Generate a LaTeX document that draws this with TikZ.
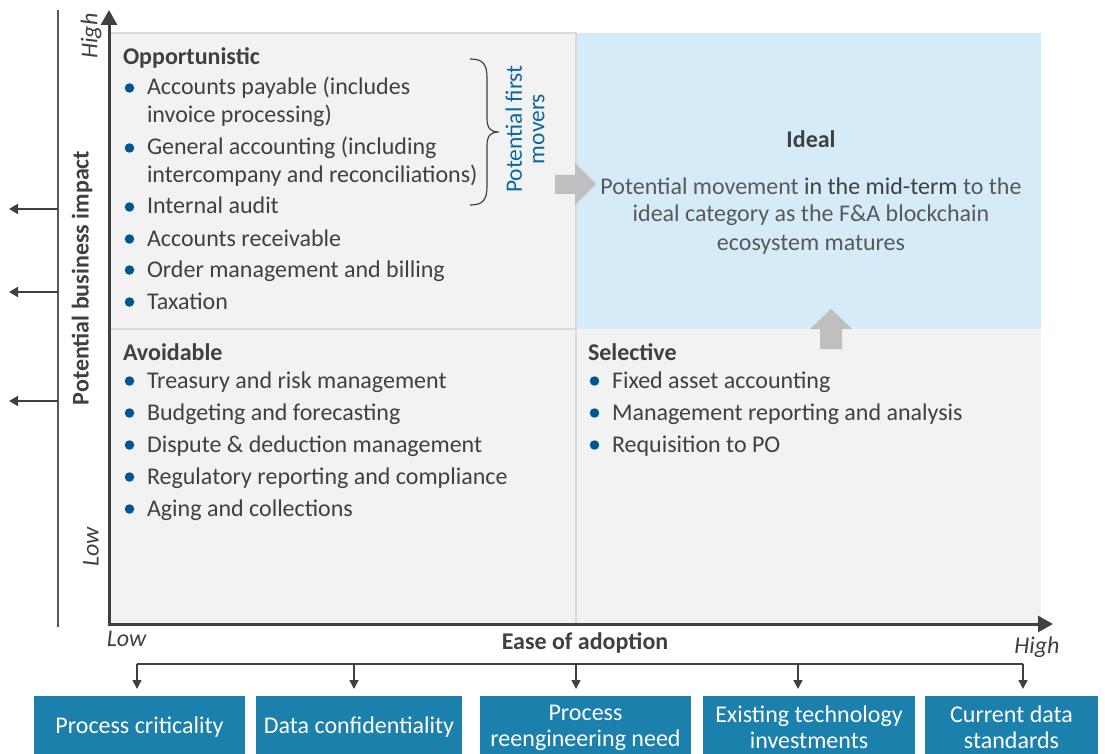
\documentclass[tikz,border=0pt]{standalone}
\usepackage{fontspec}
\setmainfont{Carlito}
\usetikzlibrary{arrows.meta}
\definecolor{txt}{HTML}{404040}
\definecolor{soft}{HTML}{595959}
\definecolor{quad}{HTML}{F2F2F2}
\definecolor{quadline}{HTML}{DADADA}
\definecolor{idealbg}{HTML}{D5EBF7}
\definecolor{dotblue}{HTML}{00578F}
\definecolor{fmblue}{HTML}{0A67A3}
\definecolor{boxblue}{HTML}{1C80AC}
\definecolor{arrowgray}{HTML}{BFBFBF}
\begin{document}
\begin{tikzpicture}[x=1pt,y=-1pt,
  every node/.style={inner sep=0pt, outer sep=0pt, text=txt, font=\fontsize{24}{29}\selectfont},
  itemtext/.style={anchor=base west},
  heading/.style={anchor=base west, font=\fontsize{24}{29}\selectfont\bfseries},
  bulletdot/.style={circle, fill=dotblue, minimum size=9.5pt},
  axisline/.style={draw=txt, line width=3pt, line join=miter},
  guide/.style={draw=soft, line width=1.4pt},
  pointer/.style={draw=txt, line width=1.8pt, -{Triangle[length=9pt,width=10pt]}},
  factor/.style={fill=boxblue, text=white, minimum height=63pt, align=center, font=\fontsize{24}{26}\selectfont},
  movearrow/.style={fill=arrowgray},
  axislabel/.style={font=\fontsize{24}{29}\selectfont\itshape}
]
\useasboundingbox (0,0) rectangle (1105,754);

% quadrants
\fill[quad] (109,33) rectangle (1041,624);
\fill[idealbg] (576,33) rectangle (1041,329);
\draw[quadline, line width=1.3pt] (109,33) -- (576,33) -- (576,624);
\draw[quadline, line width=1.3pt] (109,329) -- (576,329);

% axes
\coordinate (O) at (109,624);
\coordinate (ytop) at (109,10);
\coordinate (xend) at (1053,624);
\draw[axisline, {Triangle[length=15pt,width=16pt]}-{Triangle[length=15pt,width=16pt]}] (ytop) -- (O) -- (xend);

% left guide line and arrows
\coordinate (gtop) at (58,10);
\coordinate (gbot) at (58,627);
\draw[guide] (gtop) -- (gbot);
\coordinate (g1) at (58,209); \coordinate (e1) at (9,209);
\coordinate (g2) at (58,292); \coordinate (e2) at (9,292);
\coordinate (g3) at (58,401); \coordinate (e3) at (9,401);
\draw[pointer] (g1) -- (e1);
\draw[pointer] (g2) -- (e2);
\draw[pointer] (g3) -- (e3);

% axis labels
\node[axislabel, rotate=90] (yhigh) at (91,36) {High};
\node[axislabel, rotate=90] (ylow) at (91,547) {Low};
\node[rotate=90, font=\fontsize{24}{29}\selectfont\bfseries] (ytitle) at (82,278) {Potential business impact};
\node[axislabel, anchor=base] (xlow) at (126.5,646) {Low};
\node[anchor=base, font=\fontsize{24}{29}\selectfont\bfseries] (xtitle) at (585,649) {Ease of adoption};
\node[axislabel, anchor=base] (xhigh) at (1037,653) {High};

% Opportunistic
\node[heading] (opp) at (123,65) {Opportunistic};
\node[bulletdot] (ob1) at (129.5,88) {};
\node[itemtext] (o1a) at (147,95) {Accounts payable (includes};
\node[itemtext] (o1b) at (147,123) {invoice processing)};
\node[bulletdot] (ob2) at (129.5,148) {};
\node[itemtext] (o2a) at (147,155) {General accounting (including};
\node[itemtext] (o2b) at (147,183) {intercompany and reconciliations)};
\node[bulletdot] (ob3) at (129.5,207) {};
\node[itemtext] (o3) at (147,214) {Internal audit};
\node[bulletdot] (ob4) at (129.5,239) {};
\node[itemtext] (o4) at (147,246) {Accounts receivable};
\node[bulletdot] (ob5) at (129.5,270) {};
\node[itemtext] (o5) at (147,277) {Order management and billing};
\node[bulletdot] (ob6) at (129.5,302) {};
\node[itemtext] (o6) at (147,309) {Taxation};

% brace and first movers
\draw[txt, line width=1.2pt] (470,59) .. controls (483,59) and (487,64) .. (487,78) -- (487,118)
  .. controls (487,128) and (490,132) .. (499,132)
  .. controls (490,132) and (487,136) .. (487,146) -- (487,186)
  .. controls (487,200) and (483,205) .. (470,205);
\node[rotate=90, align=center, text=fmblue, font=\fontsize{23.5}{22.5}\selectfont] (movers) at (525,129) {Potential first\\movers};

% Avoidable
\node[heading] (avo) at (123,360) {Avoidable};
\node[bulletdot] (ab1) at (129.5,381) {};
\node[itemtext] (a1) at (147,388) {Treasury and risk management};
\node[bulletdot] (ab2) at (129.5,413) {};
\node[itemtext] (a2) at (147,420) {Budgeting and forecasting};
\node[bulletdot] (ab3) at (129.5,445) {};
\node[itemtext] (a3) at (147,452) {Dispute \& deduction management};
\node[bulletdot] (ab4) at (129.5,477) {};
\node[itemtext] (a4) at (147,484) {Regulatory reporting and compliance};
\node[bulletdot] (ab5) at (129.5,509) {};
\node[itemtext] (a5) at (147,516) {Aging and collections};

% Selective
\node[heading] (sel) at (588,360) {Selective};
\node[bulletdot] (sb1) at (594.5,381) {};
\node[itemtext] (s1) at (612,388) {Fixed asset accounting};
\node[bulletdot] (sb2) at (594.5,413) {};
\node[itemtext] (s2) at (612,420) {Management reporting and analysis};
\node[bulletdot] (sb3) at (594.5,445) {};
\node[itemtext] (s3) at (612,452) {Requisition to PO};

% Ideal
\node[anchor=base, font=\fontsize{24}{29}\selectfont\bfseries] (ideal) at (811,148) {Ideal};
\node[anchor=base, text=soft] (id1) at (811,194) {Potential movement {\color{txt}in the mid-term} to the};
\node[anchor=base, text=soft] (id2) at (811,222) {ideal category as the F\&A blockchain};
\node[anchor=base, text=soft] (id3) at (811,250) {ecosystem matures};

% movement arrows
\fill[movearrow] (555,175) -- (575,175) -- (575,163) -- (596,184) -- (575,205) -- (575,194) -- (555,194) -- cycle;
\fill[movearrow] (820,349) -- (820,329) -- (810,329) -- (831,309) -- (852,329) -- (842,329) -- (842,349) -- cycle;

% factor boxes
\node[factor, anchor=north, minimum width=211pt] (f1) at (139.5,696) {Process criticality};
\node[factor, anchor=north, minimum width=206pt] (f2) at (359,696) {Data confidentiality};
\node[factor, anchor=north, minimum width=211pt] (f3) at (585.5,696) {Process\\reengineering need};
\node[factor, anchor=north, minimum width=212pt] (f4) at (809,696) {Existing technology\\investments};
\node[factor, anchor=north, minimum width=173pt] (f5) at (1011.5,696) {Current data\\standards};

% bracket connectors
\coordinate (t1) at (137,664);
\coordinate (t2) at (354,664);
\coordinate (t3) at (576,664);
\coordinate (t4) at (798,664);
\coordinate (t5) at (1023,664);
\draw[txt, line width=1.5pt] (t1) -- (t5);
\foreach \i in {1,...,5}{
  \draw[draw=txt, line width=1.5pt, -{Triangle[length=9pt,width=9pt]}, shorten >=7pt] (t\i) -- (t\i |- f\i.north);
}
\end{tikzpicture}
\end{document}
